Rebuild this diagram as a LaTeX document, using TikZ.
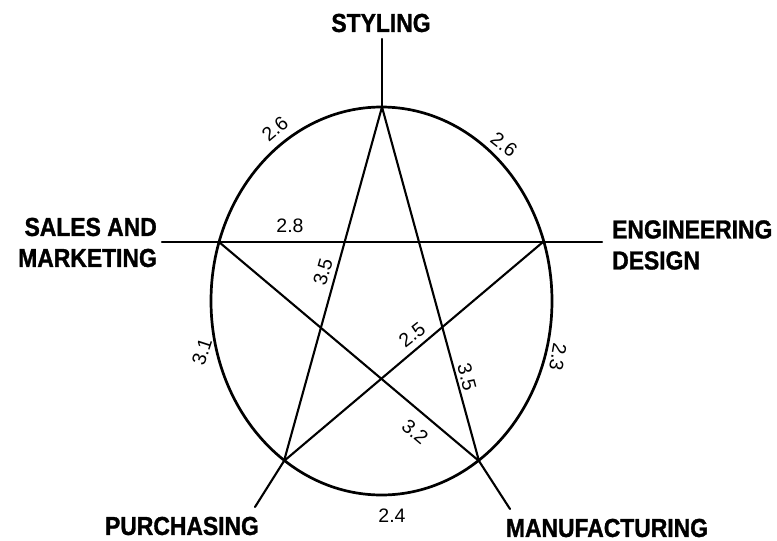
\documentclass[tikz,border=0pt]{standalone}
\usepackage{fontspec}
\setmainfont{Liberation Sans}
\newfontfamily\headfont[FakeStretch=0.88,FakeBold=1.2]{Liberation Sans}
\usepackage{tikz}
\usetikzlibrary{positioning}

\tikzset{
  rim/.style={line width=2.7pt},
  spoke/.style={line width=2.1pt, line cap=round},
  head/.style={font=\headfont\bfseries\fontsize{26}{31}\selectfont, inner sep=0pt},
  wt/.style={font=\fontsize{19.5}{21}\selectfont, inner sep=0pt}
}

\begin{document}
\begin{tikzpicture}[x=1pt,y=-1pt]
      \useasboundingbox (0,0) rectangle (777,541);
      % corners of the star
      \coordinate (c) at (381.5,301);
      \coordinate (sty) at (382,107);
      \coordinate (eng) at (543,242);
      \coordinate (man) at (479,461);
      \coordinate (pur) at (284,461);
      \coordinate (sal) at (219,242);
      % free ends of the outer strokes
      \coordinate (sty-end) at (382,39);
      \coordinate (sal-end) at (162,242);
      \coordinate (eng-end) at (602,242);
      \coordinate (pur-end) at (255,507);
      \coordinate (man-end) at (510,509);

      \draw[rim] (c) ellipse [x radius=170.5pt, y radius=194pt];
      \draw[spoke] (sal-end) -- (sal) -- (eng) -- (eng-end);
      \draw[spoke] (sty-end) -- (sty);
      \draw[spoke] (pur-end) -- (pur);
      \draw[spoke] (man-end) -- (man);
      \draw[spoke] (sty) -- (pur) -- (eng);
      \draw[spoke] (sty) -- (man) -- (sal);

      \node[head] (styling) at (381,23) {STYLING};
      \node[head, align=right, anchor=east] (sales) at (157,242.5) {SALES AND\\MARKETING};
      \node[head, align=left, anchor=west] (engdes) at (612,245) {ENGINEERING\\DESIGN};
      \node[head] (purch) at (182,526) {PURCHASING};
      \node[head] (manuf) at (607,528) {MANUFACTURING};

      % weights
      \foreach \px/\py/\ang/\val [count=\i] in {275/129/40/2.6, 504/145/-38/2.6,
          290/226/0/2.8, 323/272/74/3.5, 202/352/72/3.1, 412/335/38/2.5,
          467/377/-75/3.5, 558/357/-100/2.3, 415/432/-40/3.2, 392/516/0/2.4}
        \node[wt, rotate=\ang] (w\i) at (\px,\py) {\val};
    \end{tikzpicture}
\end{document}
